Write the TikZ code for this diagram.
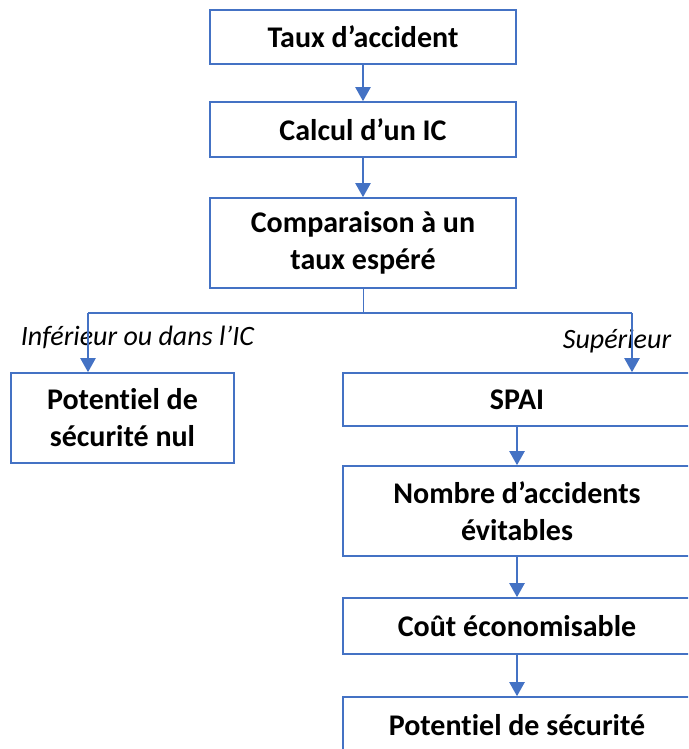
\documentclass[tikz,border=0pt]{standalone}
\usepackage{fontspec}
\setmainfont[Ligatures=NoCommon]{Carlito}
\usetikzlibrary{arrows.meta, positioning}

\definecolor{officeblue}{HTML}{4472C4}

\begin{document}
\begin{tikzpicture}[
    x=1pt, y=1pt,
    box/.style={
      draw=officeblue,
      line width=1.6pt,
      rectangle,
      minimum width=306pt,
      font=\fontsize{30}{37}\selectfont\bfseries,
      align=center,
      inner sep=0pt
    },
    label/.style={font=\fontsize{28}{32}\selectfont\itshape, inner sep=0pt},
    flow/.style={draw=officeblue, line width=2.2pt, -{Triangle[width=15pt,length=14pt]}},
    link/.style={draw=officeblue, line width=2pt}
  ]
    \useasboundingbox (0,0) rectangle (688,-749);
    \clip (0,0) rectangle (688,-749);

    % central column
    \node[box, minimum height=54pt] (taux) at (363,-37) {Taux d’accident};
    \node[box, minimum height=55pt] (calcul) at (363,-129.5) {Calcul d’un IC};
    \node[box, minimum height=90pt] (comp) at (363,-243) {Comparaison à un\\taux espéré};

    % left branch
    \node[box, minimum width=223pt, minimum height=90pt] (nul) at (122.5,-418) {Potentiel de\\sécurité nul};

    % right branch
    \node[box, minimum width=348pt, minimum height=53pt] (spai) at (517,-399.5) {SPAI};
    \node[box, minimum width=348pt, minimum height=90pt] (nombre) at (517,-511) {Nombre d’accidents\\évitables};
    \node[box, minimum width=348pt, minimum height=56pt] (cout) at (517,-626) {Coût économisable};
    \node[box, minimum width=348pt, minimum height=56pt] (potentiel) at (517,-725) {Potentiel de sécurité};

    \coordinate (split) at (363,-313);
    \coordinate (lt) at (88,-313);
    \coordinate (rt) at (632,-313);

    \node[label] (inf) at (137.5,-337) {Inférieur ou dans l’IC};
    \node[label] (sup) at (617,-341) {Supérieur};

    \draw[flow] (taux) -- (calcul);
    \draw[flow] (calcul) -- (comp);
    \draw[draw=officeblue, line width=1pt] (comp.south) -- (split);
    \draw[link] (lt) -- (rt);
    \draw[flow] (lt) -- (lt |- nul.north);
    \draw[flow] (rt) -- (rt |- spai.north);
    \draw[flow] (spai) -- (nombre);
    \draw[flow] (nombre) -- (cout);
    \draw[flow] (cout) -- (potentiel);
  \end{tikzpicture}
\end{document}
